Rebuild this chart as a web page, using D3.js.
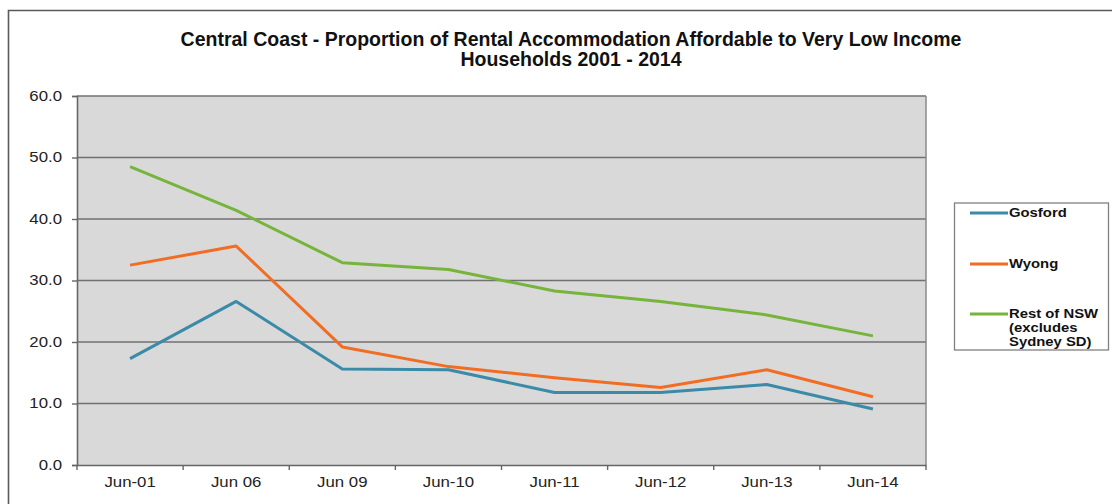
<!DOCTYPE html>
<html>
<head>
<meta charset="utf-8">
<script src="https://cdn.jsdelivr.net/npm/d3@7"></script>
<style>
  html, body { margin: 0; padding: 0; background: #fff; }
  svg { display: block; font-family: "Liberation Sans", Arial, sans-serif; }
</style>
</head>
<body>
<svg id="chart" width="1112" height="504"></svg>
<script>
// Survey periods (x axis)
const categories = ["Jun-01", "Jun 06", "Jun 09", "Jun-10", "Jun-11", "Jun-12", "Jun-13", "Jun-14"];

// Share of rental stock affordable to very low income households (%)
const gosford   = [17.3, 26.6, 15.6, 15.5, 11.8, 11.8, 13.1, 9.1];
const wyong     = [32.5, 35.6, 19.2, 16.0, 14.2, 12.6, 15.5, 11.1];
const restOfNsw = [48.5, 41.4, 32.9, 31.8, 28.3, 26.6, 24.4, 21.0];

const yTicks = [0, 10, 20, 30, 40, 50, 60];

const seriesNames  = ["Gosford", "Wyong", "Rest of NSW"];
const seriesValues = [gosford, wyong, restOfNsw];
const seriesColors = ["#3b8ba8", "#f26d24", "#76b43c"];

const svg = d3.select("#chart");
const plot = { left: 77, right: 926, top: 96, bottom: 465 };

// horizontally widen a text element around its anchor point
function widen(sel, sx) {
  sel.each(function () {
    const t = d3.select(this);
    const x = +t.attr("x") || 0, y = +t.attr("y") || 0;
    t.attr("transform", `translate(${x},${y}) scale(${sx},1) translate(${-x},${-y})`);
  });
}

// outer frame
svg.append("path")
  .attr("d", "M8.5,504 V10.5 H1112")
  .attr("fill", "none").attr("stroke", "#5a5a5a").attr("stroke-width", 1.6);

// title
const title = svg.append("g").attr("font-weight", "bold").attr("font-size", 19.5)
  .attr("text-anchor", "middle").attr("fill", "#111");
title.append("text").attr("x", 571).attr("y", 46)
  .text("Central Coast - Proportion of Rental Accommodation Affordable to Very Low Income");
title.append("text").attr("x", 571).attr("y", 66)
  .text("Households 2001 - 2014");

const x = d3.scaleBand().domain(categories).range([plot.left, plot.right]);
const y = d3.scaleLinear().domain([0, 60]).range([plot.bottom, plot.top]);

// plot background
svg.append("rect")
  .attr("x", plot.left).attr("y", plot.top)
  .attr("width", plot.right - plot.left).attr("height", plot.bottom - plot.top)
  .attr("fill", "#d9d9d9");

// horizontal gridlines
svg.append("g")
  .selectAll("line").data(yTicks.filter(d => d > 0)).join("line")
  .attr("x1", plot.left).attr("x2", plot.right)
  .attr("y1", d => y(d)).attr("y2", d => y(d))
  .attr("stroke", "#707070").attr("stroke-width", 1.5);

// right edge of the plot area
svg.append("line")
  .attr("x1", plot.right).attr("x2", plot.right)
  .attr("y1", plot.top).attr("y2", plot.bottom)
  .attr("stroke", "#8a8a8a").attr("stroke-width", 1.5);

// y axis
const yAxis = svg.append("g").attr("transform", `translate(${plot.left},0)`)
  .call(d3.axisLeft(y).tickValues(yTicks).tickFormat(d3.format(".1f")).tickSizeOuter(0).tickSize(5).tickPadding(10));
yAxis.select(".domain").attr("stroke", "#666").attr("stroke-width", 1.6);
yAxis.selectAll(".tick line").attr("stroke", "#666").attr("stroke-width", 1.4);
yAxis.selectAll("text").attr("font-size", 14).attr("fill", "#222")
  .attr("font-family", "'Liberation Sans', Arial, sans-serif").call(widen, 1.2);

// x axis with ticks on category boundaries
const xAxis = svg.append("g").attr("transform", `translate(0,${plot.bottom})`)
  .call(d3.axisBottom(x).tickSize(0).tickPadding(12).tickSizeOuter(0));
xAxis.select(".domain").attr("stroke", "#666").attr("stroke-width", 1.6);
xAxis.selectAll("text").attr("font-size", 14).attr("fill", "#222")
  .attr("font-family", "'Liberation Sans', Arial, sans-serif").call(widen, 1.2);
const bounds = categories.map(c => x(c)).concat([x(categories[categories.length - 1]) + x.bandwidth()]);
svg.append("g").selectAll("line").data(bounds).join("line")
  .attr("x1", d => d).attr("x2", d => d)
  .attr("y1", plot.bottom).attr("y2", plot.bottom + 5)
  .attr("stroke", "#666").attr("stroke-width", 1.4);

// series lines
const line = d3.line()
  .x((d, i) => x(categories[i]) + x.bandwidth() / 2)
  .y(d => y(d));
svg.append("g").selectAll("path").data(seriesValues).join("path")
  .attr("d", d => line(d))
  .attr("fill", "none")
  .attr("stroke", (d, i) => seriesColors[i])
  .attr("stroke-width", 3)
  .attr("stroke-linejoin", "round");

// legend
const lg = svg.append("g");
lg.append("rect").attr("x", 954.5).attr("y", 203).attr("width", 154).attr("height", 147)
  .attr("fill", "#fff").attr("stroke", "#808080").attr("stroke-width", 1.3);
const legendY = [213, 264, 314];
const legendLines = [["Gosford"], ["Wyong"], ["Rest of NSW", "(excludes", "Sydney SD)"]];
seriesNames.forEach((name, i) => {
  lg.append("line").attr("x1", 970).attr("x2", 1008)
    .attr("y1", legendY[i]).attr("y2", legendY[i])
    .attr("stroke", seriesColors[i]).attr("stroke-width", 3);
  legendLines[i].forEach((s, j) => {
    lg.append("text").attr("x", 1009).attr("y", legendY[i] + 4.5 + j * 13.8)
      .attr("font-size", 13.5).attr("font-weight", "bold").attr("fill", "#111")
      .text(s).call(widen, 1.1);
  });
});
</script>
</body>
</html>
